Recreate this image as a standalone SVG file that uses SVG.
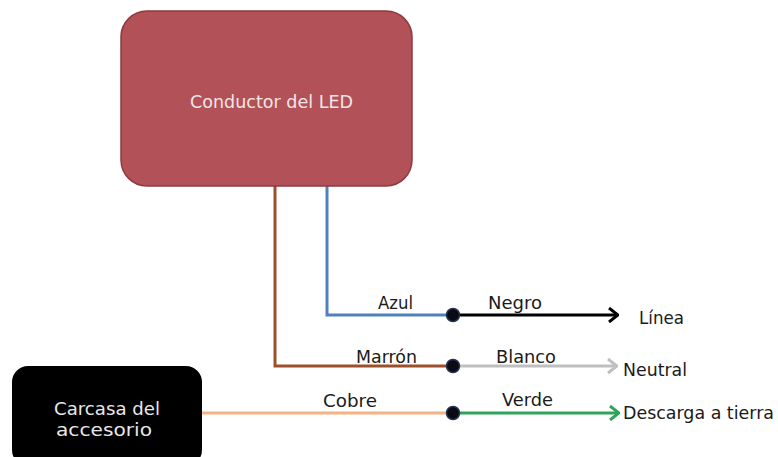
<svg xmlns="http://www.w3.org/2000/svg" width="778" height="457" viewBox="0 0 778 457">
<defs>
<style>
.lbl{font-family:"DejaVu Sans","Liberation Sans",Arial,sans-serif;font-size:17px;fill:#1a1a1a}
.wht{font-family:"DejaVu Sans","Liberation Sans",Arial,sans-serif;font-size:17px;fill:#e8e8e8}
.wire{fill:none;stroke-width:3}
.dot{fill:#0a0a14;stroke:#24324d;stroke-width:1.5}
</style>
<marker id="aBlack" viewBox="0 0 12 16" refX="11" refY="8" markerWidth="12" markerHeight="16" markerUnits="userSpaceOnUse" orient="auto"><path d="M2,1 L11,8 L2,15" fill="none" stroke="#000" stroke-width="3"/></marker>
<marker id="aGray" viewBox="0 0 12 16" refX="11" refY="8" markerWidth="12" markerHeight="16" markerUnits="userSpaceOnUse" orient="auto"><path d="M2,1 L11,8 L2,15" fill="none" stroke="#bfbfbf" stroke-width="3"/></marker>
<marker id="aGreen" viewBox="0 0 12 16" refX="11" refY="8" markerWidth="12" markerHeight="16" markerUnits="userSpaceOnUse" orient="auto"><path d="M2,1 L11,8 L2,15" fill="none" stroke="#2ea35a" stroke-width="3"/></marker>
</defs>
<rect width="778" height="457" fill="#fff"/>
<g id="connectors">
<path class="wire" d="M275,186 V366 H453" stroke="#9e4f2a"/>
<path class="wire" d="M327,186 V315 H453" stroke="#4f81bd"/>
<path class="wire" d="M202,413 H453" stroke="#f4b183"/>
<path class="wire" d="M453,315 H618" stroke="#000" marker-end="url(#aBlack)"/>
<path class="wire" d="M453,366 H617" stroke="#bfbfbf" marker-end="url(#aGray)"/>
<path class="wire" d="M453,413 H619" stroke="#2ea35a" marker-end="url(#aGreen)"/>
<circle class="dot" cx="453" cy="315" r="6.5"/>
<circle class="dot" cx="453" cy="366" r="6.5"/>
<circle class="dot" cx="453" cy="413" r="6.5"/>
<text class="lbl" x="378" y="309" textLength="35" lengthAdjust="spacingAndGlyphs">Azul</text>
<text class="lbl" x="356" y="363" textLength="61" lengthAdjust="spacingAndGlyphs">Marrón</text>
<text class="lbl" x="323" y="407" textLength="54" lengthAdjust="spacingAndGlyphs">Cobre</text>
<text class="lbl" x="488" y="309" textLength="54" lengthAdjust="spacingAndGlyphs">Negro</text>
<text class="lbl" x="496" y="363" textLength="60" lengthAdjust="spacingAndGlyphs">Blanco</text>
<text class="lbl" x="502" y="406" textLength="51" lengthAdjust="spacingAndGlyphs">Verde</text>
</g>
<g id="driver">
<rect x="121" y="11" width="291" height="175" rx="26" fill="#b25157" stroke="#8c3b40" stroke-width="1.5"/>
<text class="wht" x="190" y="108" style="font-size:18px;fill:#f3e6e6" textLength="163" lengthAdjust="spacingAndGlyphs">Conductor del LED</text>
</g>
<g id="housing">
<rect x="12" y="366" width="190" height="100" rx="16" fill="#000"/>
<text class="wht" x="54" y="415" textLength="106" lengthAdjust="spacingAndGlyphs">Carcasa del</text>
<text class="wht" x="56" y="436" textLength="96" lengthAdjust="spacingAndGlyphs">accesorio</text>
</g>
<g id="linea"><text class="lbl" x="639" y="324" textLength="45" lengthAdjust="spacingAndGlyphs">Línea</text></g>
<g id="neutral"><text class="lbl" x="623" y="376" textLength="64" lengthAdjust="spacingAndGlyphs">Neutral</text></g>
<g id="tierra"><text class="lbl" x="623" y="419" textLength="151" lengthAdjust="spacingAndGlyphs">Descarga a tierra</text></g>
</svg>
